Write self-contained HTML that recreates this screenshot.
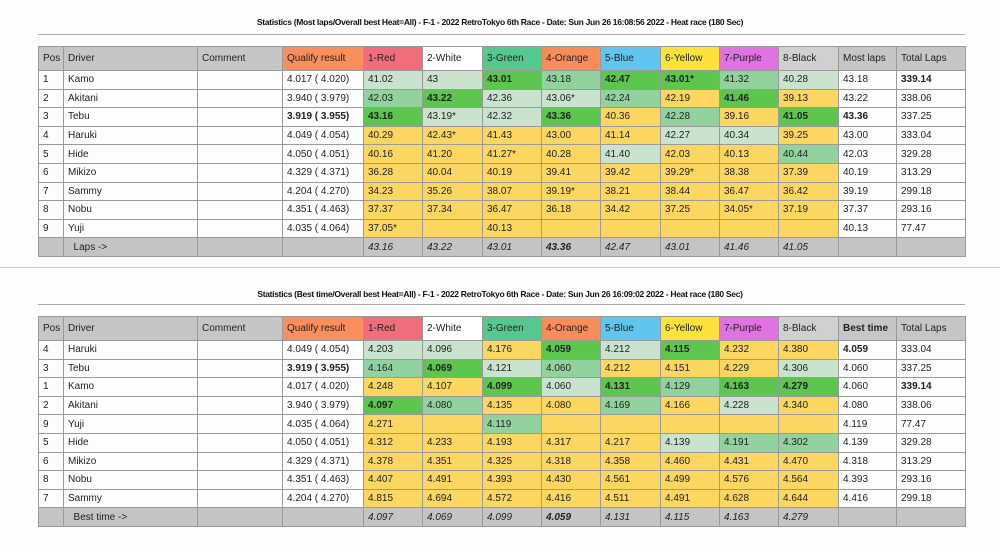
<!DOCTYPE html>
<html><head><meta charset="utf-8"><style>
body{margin:0;width:1000px;height:553px;background:#fdfdfd;font-family:"Liberation Sans",sans-serif;position:relative;overflow:hidden}
.t{position:absolute;left:0;width:1000px;text-align:center;font-size:8.5px;font-weight:bold;color:#111;letter-spacing:-0.3px}
.hr{position:absolute;left:38px;width:927px;height:1px;background:#aaa}
table{position:absolute;left:38px;border-collapse:collapse;table-layout:fixed;width:927px;font-size:10px;color:#222}
td{border:1px solid #9a9a9a;padding:0 0 0 4px;white-space:nowrap;overflow:hidden}
tr.h td{height:23px;background:#c6c6c6}
tr.r td{height:17.6px}
tr.f td{height:18px;background:#c4c4c4;font-style:italic}
.y{background:#fbd661}.l{background:#c9e3cf}.m{background:#92d29e}.s{background:#5dc64f;font-weight:bold}.b{font-weight:bold}
.qh{background:#f98f5c!important}.rh{background:#f26d7b!important}.wh{background:#fff!important}.gh{background:#55c98d!important}.oh{background:#f98c5b!important}.bh{background:#60c6ef!important}.yh{background:#fde23c!important}.ph{background:#e072e2!important}.kh{background:#d0d0d0!important}
.sep{position:absolute;left:0;top:267px;width:1000px;height:1px;background:#ccc}
</style></head><body>
<div class="t" style="top:17px">Statistics (Most laps/Overall best Heat=All) - F-1 - 2022 RetroTokyo 6th Race - Date: Sun Jun 26 16:08:56 2022 - Heat race (180 Sec)</div>
<div class="hr" style="top:34px"></div>
<table style="top:46px">
<colgroup><col style="width:25px"><col style="width:134px"><col style="width:85px"><col style="width:81px"><col style="width:59px"><col style="width:60px"><col style="width:59px"><col style="width:59px"><col style="width:60px"><col style="width:59px"><col style="width:59px"><col style="width:60px"><col style="width:58px"><col style="width:69px"></colgroup>
<tr class="h"><td>Pos</td><td>Driver</td><td>Comment</td><td class="qh">Qualify result</td><td class="rh">1-Red</td><td class="wh">2-White</td><td class="gh">3-Green</td><td class="oh">4-Orange</td><td class="bh">5-Blue</td><td class="yh">6-Yellow</td><td class="ph">7-Purple</td><td class="kh">8-Black</td><td>Most laps</td><td>Total Laps</td></tr>
<tr class="r"><td>1</td><td>Kamo</td><td></td><td>4.017 ( 4.020)</td><td class="l">41.02</td><td class="l">43</td><td class="s">43.01</td><td class="m">43.18</td><td class="s">42.47</td><td class="s">43.01*</td><td class="m">41.32</td><td class="l">40.28</td><td>43.18</td><td class="b">339.14</td></tr>
<tr class="r"><td>2</td><td>Akitani</td><td></td><td>3.940 ( 3.979)</td><td class="m">42.03</td><td class="s">43.22</td><td class="l">42.36</td><td class="l">43.06*</td><td class="m">42.24</td><td class="y">42.19</td><td class="s">41.46</td><td class="y">39.13</td><td>43.22</td><td>338.06</td></tr>
<tr class="r"><td>3</td><td>Tebu</td><td></td><td class="b">3.919 ( 3.955)</td><td class="s">43.16</td><td class="l">43.19*</td><td class="l">42.32</td><td class="s">43.36</td><td class="y">40.36</td><td class="m">42.28</td><td class="y">39.16</td><td class="s">41.05</td><td class="b">43.36</td><td>337.25</td></tr>
<tr class="r"><td>4</td><td>Haruki</td><td></td><td>4.049 ( 4.054)</td><td class="y">40.29</td><td class="y">42.43*</td><td class="y">41.43</td><td class="y">43.00</td><td class="y">41.14</td><td class="l">42.27</td><td class="l">40.34</td><td class="y">39.25</td><td>43.00</td><td>333.04</td></tr>
<tr class="r"><td>5</td><td>Hide</td><td></td><td>4.050 ( 4.051)</td><td class="y">40.16</td><td class="y">41.20</td><td class="y">41.27*</td><td class="y">40.28</td><td class="l">41.40</td><td class="y">42.03</td><td class="y">40.13</td><td class="m">40.44</td><td>42.03</td><td>329.28</td></tr>
<tr class="r"><td>6</td><td>Mikizo</td><td></td><td>4.329 ( 4.371)</td><td class="y">36.28</td><td class="y">40.04</td><td class="y">40.19</td><td class="y">39.41</td><td class="y">39.42</td><td class="y">39.29*</td><td class="y">38.38</td><td class="y">37.39</td><td>40.19</td><td>313.29</td></tr>
<tr class="r"><td>7</td><td>Sammy</td><td></td><td>4.204 ( 4.270)</td><td class="y">34.23</td><td class="y">35.26</td><td class="y">38.07</td><td class="y">39.19*</td><td class="y">38.21</td><td class="y">38.44</td><td class="y">36.47</td><td class="y">36.42</td><td>39.19</td><td>299.18</td></tr>
<tr class="r"><td>8</td><td>Nobu</td><td></td><td>4.351 ( 4.463)</td><td class="y">37.37</td><td class="y">37.34</td><td class="y">36.47</td><td class="y">36.18</td><td class="y">34.42</td><td class="y">37.25</td><td class="y">34.05*</td><td class="y">37.19</td><td>37.37</td><td>293.16</td></tr>
<tr class="r"><td>9</td><td>Yuji</td><td></td><td>4.035 ( 4.064)</td><td class="y">37.05*</td><td class="y"></td><td class="y">40.13</td><td class="y"></td><td class="y"></td><td class="y"></td><td class="y"></td><td class="y"></td><td>40.13</td><td>77.47</td></tr>
<tr class="f"><td></td><td style="font-style:normal">&nbsp;&nbsp;Laps -&gt;</td><td></td><td></td><td>43.16</td><td>43.22</td><td>43.01</td><td class="b">43.36</td><td>42.47</td><td>43.01</td><td>41.46</td><td>41.05</td><td></td><td></td></tr>
</table>
<div class="sep"></div>
<div class="t" style="top:289px">Statistics (Best time/Overall best Heat=All) - F-1 - 2022 RetroTokyo 6th Race - Date: Sun Jun 26 16:09:02 2022 - Heat race (180 Sec)</div>
<div class="hr" style="top:304px"></div>
<table style="top:316px">
<colgroup><col style="width:25px"><col style="width:134px"><col style="width:85px"><col style="width:81px"><col style="width:59px"><col style="width:60px"><col style="width:59px"><col style="width:59px"><col style="width:60px"><col style="width:59px"><col style="width:59px"><col style="width:60px"><col style="width:58px"><col style="width:69px"></colgroup>
<tr class="h"><td>Pos</td><td>Driver</td><td>Comment</td><td class="qh">Qualify result</td><td class="rh">1-Red</td><td class="wh">2-White</td><td class="gh">3-Green</td><td class="oh">4-Orange</td><td class="bh">5-Blue</td><td class="yh">6-Yellow</td><td class="ph">7-Purple</td><td class="kh">8-Black</td><td class="b">Best time</td><td>Total Laps</td></tr>
<tr class="r"><td>4</td><td>Haruki</td><td></td><td>4.049 ( 4.054)</td><td class="l">4.203</td><td class="l">4.096</td><td class="y">4.176</td><td class="s">4.059</td><td class="l">4.212</td><td class="s">4.115</td><td class="y">4.232</td><td class="y">4.380</td><td class="b">4.059</td><td>333.04</td></tr>
<tr class="r"><td>3</td><td>Tebu</td><td></td><td class="b">3.919 ( 3.955)</td><td class="m">4.164</td><td class="s">4.069</td><td class="l">4.121</td><td class="m">4.060</td><td class="y">4.212</td><td class="y">4.151</td><td class="y">4.229</td><td class="l">4.306</td><td>4.060</td><td>337.25</td></tr>
<tr class="r"><td>1</td><td>Kamo</td><td></td><td>4.017 ( 4.020)</td><td class="y">4.248</td><td class="y">4.107</td><td class="s">4.099</td><td class="l">4.060</td><td class="s">4.131</td><td class="m">4.129</td><td class="s">4.163</td><td class="s">4.279</td><td>4.060</td><td class="b">339.14</td></tr>
<tr class="r"><td>2</td><td>Akitani</td><td></td><td>3.940 ( 3.979)</td><td class="s">4.097</td><td class="m">4.080</td><td class="y">4.135</td><td class="y">4.080</td><td class="m">4.169</td><td class="y">4.166</td><td class="l">4.228</td><td class="y">4.340</td><td>4.080</td><td>338.06</td></tr>
<tr class="r"><td>9</td><td>Yuji</td><td></td><td>4.035 ( 4.064)</td><td class="y">4.271</td><td class="y"></td><td class="m">4.119</td><td class="y"></td><td class="y"></td><td class="y"></td><td class="y"></td><td class="y"></td><td>4.119</td><td>77.47</td></tr>
<tr class="r"><td>5</td><td>Hide</td><td></td><td>4.050 ( 4.051)</td><td class="y">4.312</td><td class="y">4.233</td><td class="y">4.193</td><td class="y">4.317</td><td class="y">4.217</td><td class="l">4.139</td><td class="m">4.191</td><td class="m">4.302</td><td>4.139</td><td>329.28</td></tr>
<tr class="r"><td>6</td><td>Mikizo</td><td></td><td>4.329 ( 4.371)</td><td class="y">4.378</td><td class="y">4.351</td><td class="y">4.325</td><td class="y">4.318</td><td class="y">4.358</td><td class="y">4.460</td><td class="y">4.431</td><td class="y">4.470</td><td>4.318</td><td>313.29</td></tr>
<tr class="r"><td>8</td><td>Nobu</td><td></td><td>4.351 ( 4.463)</td><td class="y">4.407</td><td class="y">4.491</td><td class="y">4.393</td><td class="y">4.430</td><td class="y">4.561</td><td class="y">4.499</td><td class="y">4.576</td><td class="y">4.564</td><td>4.393</td><td>293.16</td></tr>
<tr class="r"><td>7</td><td>Sammy</td><td></td><td>4.204 ( 4.270)</td><td class="y">4.815</td><td class="y">4.694</td><td class="y">4.572</td><td class="y">4.416</td><td class="y">4.511</td><td class="y">4.491</td><td class="y">4.628</td><td class="y">4.644</td><td>4.416</td><td>299.18</td></tr>
<tr class="f"><td></td><td style="font-style:normal">&nbsp;&nbsp;Best time -&gt;</td><td></td><td></td><td>4.097</td><td>4.069</td><td>4.099</td><td class="b">4.059</td><td>4.131</td><td>4.115</td><td>4.163</td><td>4.279</td><td></td><td></td></tr>
</table>
</body></html>
